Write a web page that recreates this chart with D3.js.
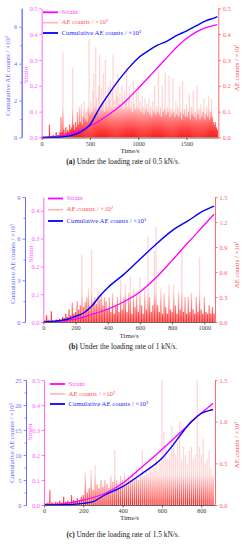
<!DOCTYPE html>
<html lang="en">
<head>
<meta charset="UTF-8">
<title>AE counts under loading</title>
<script src="https://d3js.org/d3.v7.min.js"></script>
<style>
  body { margin: 0; background: #fff; }
  text { font-family: "Liberation Serif", "DejaVu Serif", serif; }
</style>
</head>
<body>
<svg width="246" height="550"></svg>
<script>
// AE counts are read every 10 s
var aeStep = 10;

// (a) 0.5 kN/s
var aeA = [
  0,0,0,0,0,0,0,0,0.05,0,
  0,0,0.01,0,0,0.02,0,0.01,0,0.02,
  0.08,0.02,0.33,0.03,0.01,0.04,0.02,0.03,0.02,0.05,
  0.03,0.04,0.27,0.05,0.03,0.06,0.04,0.1,0.05,0.12,
  0.06,0.13,0.05,0.08,0.14,0.07,0.1,0.06,0.12,0.38,
  0.09,0.14,0.1,0.18,0.25,0.12,0.35,0.15,0.1,0.2,
  0.32,0.12,0.19,0.14,0.25,0.1,0.3,0.16,0.12,0.2,
  0.15,0.22,0.12,0.18,0.32,0.14,0.12,0.2,0.16,0.25,
  0.13,0.17,0.12,0.2,0.15,0.11,0.18,0.14,0.27,0.12,
  0.15,0.2,0.12,0.14,0.1,0.22,0.13,0.11,0.18,0.12,
  0.2,0.11,0.14,0.1,0.16,0.12,0.09,0.15,0.11,0.13,
  0.1,0.15,0.09,0.12,0.08,0.14,0.1,0.2,0.09,0.12,
  0.1,0.26,0.09,0.12,0.08,0.2,0.1,0.11,0.25,0.09,
  0.12,0.1,0.24,0.08,0.11,0.09,0.23,0.1,0.08,0.14,
  0.09,0.12,0.08,0.2,0.1,0.07,0.22,0.09,0.11,0.08,
  0.13,0.08,0.1,0.17,0.07,0.12,0.09,0.18,0.08,0.1,
  0.07,0.2,0.09,0.11,0.07,0.13,0.08,0.1,0.15,0.07,
  0.09,0.12,0.08,0.16,0.07,0.1,0.15,0.08,0.06,0.05,
  0.06,0.04,0.03
];
var timeA   = [0,100,200,300,400,500,600,700,800,900,1000,1100,1200,1300,1400,1500,1600,1700,1800,1820];
var strainA = [0,0.002,0.007,0.015,0.027,0.045,0.065,0.09,0.118,0.152,0.19,0.23,0.27,0.31,0.35,0.383,0.408,0.425,0.435,0.437];
var cumA    = [0,0.01,0.03,0.1,0.29,0.69,1.6,2.39,3.12,3.76,4.31,4.68,5.0,5.22,5.53,5.77,6.05,6.32,6.5,6.55];

// (b) 1 kN/s
var aeB = [
  0,0.02,0.08,0.03,0.02,0.13,0.02,0.01,0.03,0.02,
  0.04,0.03,0.06,0.05,0.1,0.06,0.15,0.08,0.23,0.1,
  0.12,0.25,0.15,0.2,0.81,0.18,0.24,0.3,0.4,0.2,
  0.87,0.25,0.3,0.22,0.38,0.28,0.35,0.2,0.3,0.25,
  0.15,0.3,0.12,0.35,0.1,0.2,0.3,0.12,0.51,0.15,
  0.3,0.45,0.12,0.35,0.55,0.1,0.4,0.18,0.35,0.12,
  0.53,0.2,0.1,0.4,0.15,1.03,0.3,0.12,0.2,0.85,
  1.14,0.2,0.12,0.4,0.1,0.35,0.18,0.1,0.45,0.15,
  0.12,0.45,0.2,0.1,0.35,0.15,0.87,0.12,0.3,0.1,
  0.3,0.12,0.35,0.15,0.1,0.3,0.12,0.78,0.15,0.1,
  0.3,0.12,0.1,0.2,0.1,0.18,0.1
];
var timeB   = [0,100,150,200,250,300,350,400,500,600,700,800,900,1000,1060];
var strainB = [0,0.003,0.006,0.011,0.018,0.027,0.036,0.046,0.073,0.108,0.16,0.222,0.287,0.35,0.388];
var cumB    = [0,0.1,0.2,0.41,0.65,1.13,1.86,2.47,3.43,4.52,5.6,6.58,7.3,8.03,8.35];

// (c) 1.5 kN/s
var aeC = [
  0,0.02,0.03,0.18,0.03,0.02,0.04,0.03,0.05,0.03,
  0.1,0.04,0.05,0.03,0.12,0.06,0.05,0.08,0.06,0.1,
  0.12,0.4,0.15,0.2,0.42,0.18,0.48,0.25,0.2,0.3,
  0.22,0.3,0.25,0.2,0.35,0.28,0.66,0.3,0.25,0.35,
  0.3,0.38,0.28,0.35,0.3,0.4,0.33,0.45,0.3,0.38,
  0.66,0.35,0.42,0.38,0.5,0.4,0.45,0.6,0.4,0.5,
  1.5,0.88,0.7,0.55,0.6,0.95,0.8,0.6,0.75,1.0,
  0.55,0.7,0.6,0.5,0.65,0.7,0.55,0.6,1.5,0.7,
  0.6,0.8,0.5,0.55,0.65,0.45,0.35
];
var timeC   = [0,100,150,200,250,300,400,500,600,650,700,750,800,850,860];
var strainC = [0,0.005,0.011,0.02,0.03,0.043,0.087,0.153,0.222,0.258,0.295,0.332,0.368,0.4,0.407];
var cumC    = [0,0.05,0.12,0.33,0.67,1.8,3.67,6.33,9.33,11.67,14.3,16.7,18.3,19.0,19.1];

var legendNames = ["Strain", "AE counts / \u00d710\u00b2", "Cumulative AE counts / \u00d710\u00b3"];

var blueAx = "#6a6aff", pinkAx = "#ff55ff", redAx = "#ff5a5a";

var svg = d3.select('svg');
var defs = svg.append('defs');

function styleAxis(sel, col, fs) {
  sel.selectAll('path').attr('stroke', col).attr('stroke-width', 0.9);
  sel.selectAll('line').attr('stroke', col).attr('stroke-width', 0.8);
  sel.selectAll('text').attr('fill', col).attr('font-size', fs)
    .style('font-family', '"Liberation Serif", serif');
}

function drawPanel(p) {
  var x  = d3.scaleLinear().domain([0, p.tMax]).range([p.left, p.right]);
  var yS = d3.scaleLinear().domain([0, p.sMax]).range([p.bottom, p.top]);
  var yC = d3.scaleLinear().domain([0, p.cMax]).range([p.bottom, p.top]);
  var yA = d3.scaleLinear().domain([0, p.aMax]).range([p.bottom, p.top]);
  var g = svg.append('g');

  // fading red for the AE spikes
  var grad = defs.append('linearGradient').attr('id', 'fade' + p.id)
    .attr('gradientUnits', 'userSpaceOnUse')
    .attr('x1', 0).attr('x2', 0).attr('y1', p.bottom).attr('y2', p.bottom - 30);
  grad.append('stop').attr('offset', 0).attr('stop-color', '#ff0000').attr('stop-opacity', 0.85);
  grad.append('stop').attr('offset', 1).attr('stop-color', '#ff0000').attr('stop-opacity', 0.16);

  defs.append('clipPath').attr('id', 'clip' + p.id).append('rect')
    .attr('x', p.left).attr('y', p.top).attr('width', p.right - p.left).attr('height', p.bottom - p.top);

  g.append('g').attr('clip-path', 'url(#clip' + p.id + ')')
    .selectAll('line').data(p.ae).join('line')
    .attr('x1', function (d, i) { return x(i * aeStep); })
    .attr('x2', function (d, i) { return x(i * aeStep); })
    .attr('y1', yA(0))
    .attr('y2', function (d) { return yA(d); })
    .attr('stroke', 'url(#fade' + p.id + ')')
    .attr('stroke-width', 1.3);

  var strainLine = d3.line().curve(d3.curveMonotoneX)
    .x(function (d) { return x(d[0]); }).y(function (d) { return yS(d[1]); });
  var cumLine = d3.line().curve(d3.curveMonotoneX)
    .x(function (d) { return x(d[0]); }).y(function (d) { return yC(d[1]); });

  g.append('path').datum(d3.zip(p.time, p.strain)).attr('d', strainLine)
    .attr('fill', 'none').attr('stroke', '#ff00ff').attr('stroke-width', 1.3);
  g.append('path').datum(d3.zip(p.time, p.cum)).attr('d', cumLine)
    .attr('fill', 'none').attr('stroke', '#0000ff').attr('stroke-width', 1.4);

  // axes
  var fs = 6.3;
  var xa = g.append('g').attr('transform', 'translate(0,' + p.bottom + ')')
    .call(d3.axisBottom(x).tickValues(p.xTicks).tickSize(2.5).tickSizeOuter(0).tickPadding(1.5).tickFormat(d3.format('d')));
  styleAxis(xa, '#444', fs);
  xa.selectAll('path').attr('stroke', '#555');

  var ca = g.append('g').attr('transform', 'translate(' + p.blueX + ',0)')
    .call(d3.axisLeft(yC).tickValues(p.cTicks).tickSize(2.5).tickSizeOuter(0).tickPadding(2).tickFormat(d3.format('d')));
  styleAxis(ca, blueAx, fs);
  var cm = g.append('g').attr('transform', 'translate(' + p.blueX + ',0)')
    .call(d3.axisLeft(yC).tickValues(p.cMinor).tickSize(1.5).tickSizeOuter(0).tickFormat(''));
  styleAxis(cm, blueAx, fs);

  var sa = g.append('g').attr('transform', 'translate(' + p.left + ',0)')
    .call(d3.axisLeft(yS).tickValues(p.sTicks).tickSize(2.5).tickSizeOuter(0).tickPadding(1.5).tickFormat(d3.format('.1f')));
  styleAxis(sa, pinkAx, fs);

  var aa = g.append('g').attr('transform', 'translate(' + p.right + ',0)')
    .call(d3.axisRight(yA).tickValues(p.aTicks).tickSize(2.5).tickSizeOuter(0).tickPadding(2).tickFormat(d3.format('.1f')));
  styleAxis(aa, redAx, fs);

  // axis titles
  function vTitle(tx, ty, txt, col) {
    g.append('text').attr('transform', 'translate(' + tx + ',' + ty + ') rotate(-90)')
      .attr('text-anchor', 'middle').attr('dominant-baseline', 'middle')
      .attr('font-size', 6.8).attr('fill', col).text(txt);
  }
  vTitle(p.blueTitle[0], p.blueTitle[1], legendNames[2], blueAx);
  vTitle(p.strainTitle[0], p.strainTitle[1], 'Strain', pinkAx);
  vTitle(237, p.redTitleY, legendNames[1], redAx);

  g.append('text').attr('x', (p.left + p.right) / 2).attr('y', p.timeY)
    .attr('text-anchor', 'middle').attr('font-size', 7).attr('fill', '#333').text('Time/s');

  // legend
  var lcol = ['#ff00ff', '#ffb4b4', '#0000ff'];
  var lw = [1.8, 1.6, 1.8];
  legendNames.forEach(function (name, i) {
    var ly = p.legendY[i];
    g.append('line').attr('x1', p.legendX).attr('x2', p.legendX + 15)
      .attr('y1', ly).attr('y2', ly).attr('stroke', lcol[i]).attr('stroke-width', lw[i]);
    g.append('text').attr('x', p.legendX + 18.5).attr('y', ly).attr('dominant-baseline', 'middle')
      .attr('font-size', 6.8).attr('fill', i === 2 ? '#2a2aff' : (i === 0 ? '#ff44ff' : '#ff5555')).text(name);
  });

  // caption
  var cap = svg.append('text').attr('x', 123).attr('y', p.captionY)
    .attr('text-anchor', 'middle').attr('font-size', 7.4).attr('fill', '#222');
  cap.append('tspan').attr('font-weight', 'bold').text(p.capTag);
  cap.append('tspan').text(' Under the loading rate of ' + p.rate + ' kN/s.');
}

drawPanel({
  id: 'a', ae: aeA, time: timeA, strain: strainA, cum: cumA,
  tMax: 1830, sMax: 0.5, cMax: 7, aMax: 0.5,
  left: 41.7, right: 218.3, top: 8.3, bottom: 137.5, blueX: 21.7,
  xTicks: [0, 500, 1000, 1500], cTicks: [0, 2, 4, 6], cMinor: [1, 3, 5],
  sTicks: [0, 0.1, 0.2, 0.3, 0.4, 0.5], aTicks: [0, 0.1, 0.2, 0.3, 0.4, 0.5],
  blueTitle: [8, 76], strainTitle: [26, 75], redTitleY: 68,
  timeY: 153, legendX: 43, legendY: [12.3, 22.7, 33],
  captionY: 164, capTag: '(a)', rate: '0.5'
});

drawPanel({
  id: 'b', ae: aeB, time: timeB, strain: strainB, cum: cumB,
  tMax: 1066, sMax: 0.45, cMax: 9, aMax: 1.5,
  left: 43.3, right: 215, top: 197, bottom: 322, blueX: 25,
  xTicks: [0, 200, 400, 600, 800, 1000], cTicks: [0, 3, 6, 9], cMinor: [1.5, 4.5, 7.5],
  sTicks: [0, 0.1, 0.2, 0.3, 0.4], aTicks: [0, 0.3, 0.6, 0.9, 1.2, 1.5],
  blueTitle: [13, 264], strainTitle: [31.5, 254], redTitleY: 265,
  timeY: 338, legendX: 48, legendY: [198.5, 209.7, 221],
  captionY: 349, capTag: '(b)', rate: '1'
});

drawPanel({
  id: 'c', ae: aeC, time: timeC, strain: strainC, cum: cumC,
  tMax: 870, sMax: 0.5, cMax: 25, aMax: 1.5,
  left: 44, right: 215, top: 380, bottom: 505, blueX: 26,
  xTicks: [0, 200, 400, 600, 800], cTicks: [0, 5, 10, 15, 20, 25], cMinor: [2.5, 7.5, 12.5, 17.5, 22.5],
  sTicks: [0, 0.1, 0.2, 0.3, 0.4, 0.5], aTicks: [0, 0.5, 1.0, 1.5],
  blueTitle: [12, 443], strainTitle: [30, 432], redTitleY: 445,
  timeY: 520, legendX: 50, legendY: [384, 394, 404],
  captionY: 537, capTag: '(c)', rate: '1.5'
});
</script>
</body>
</html>
